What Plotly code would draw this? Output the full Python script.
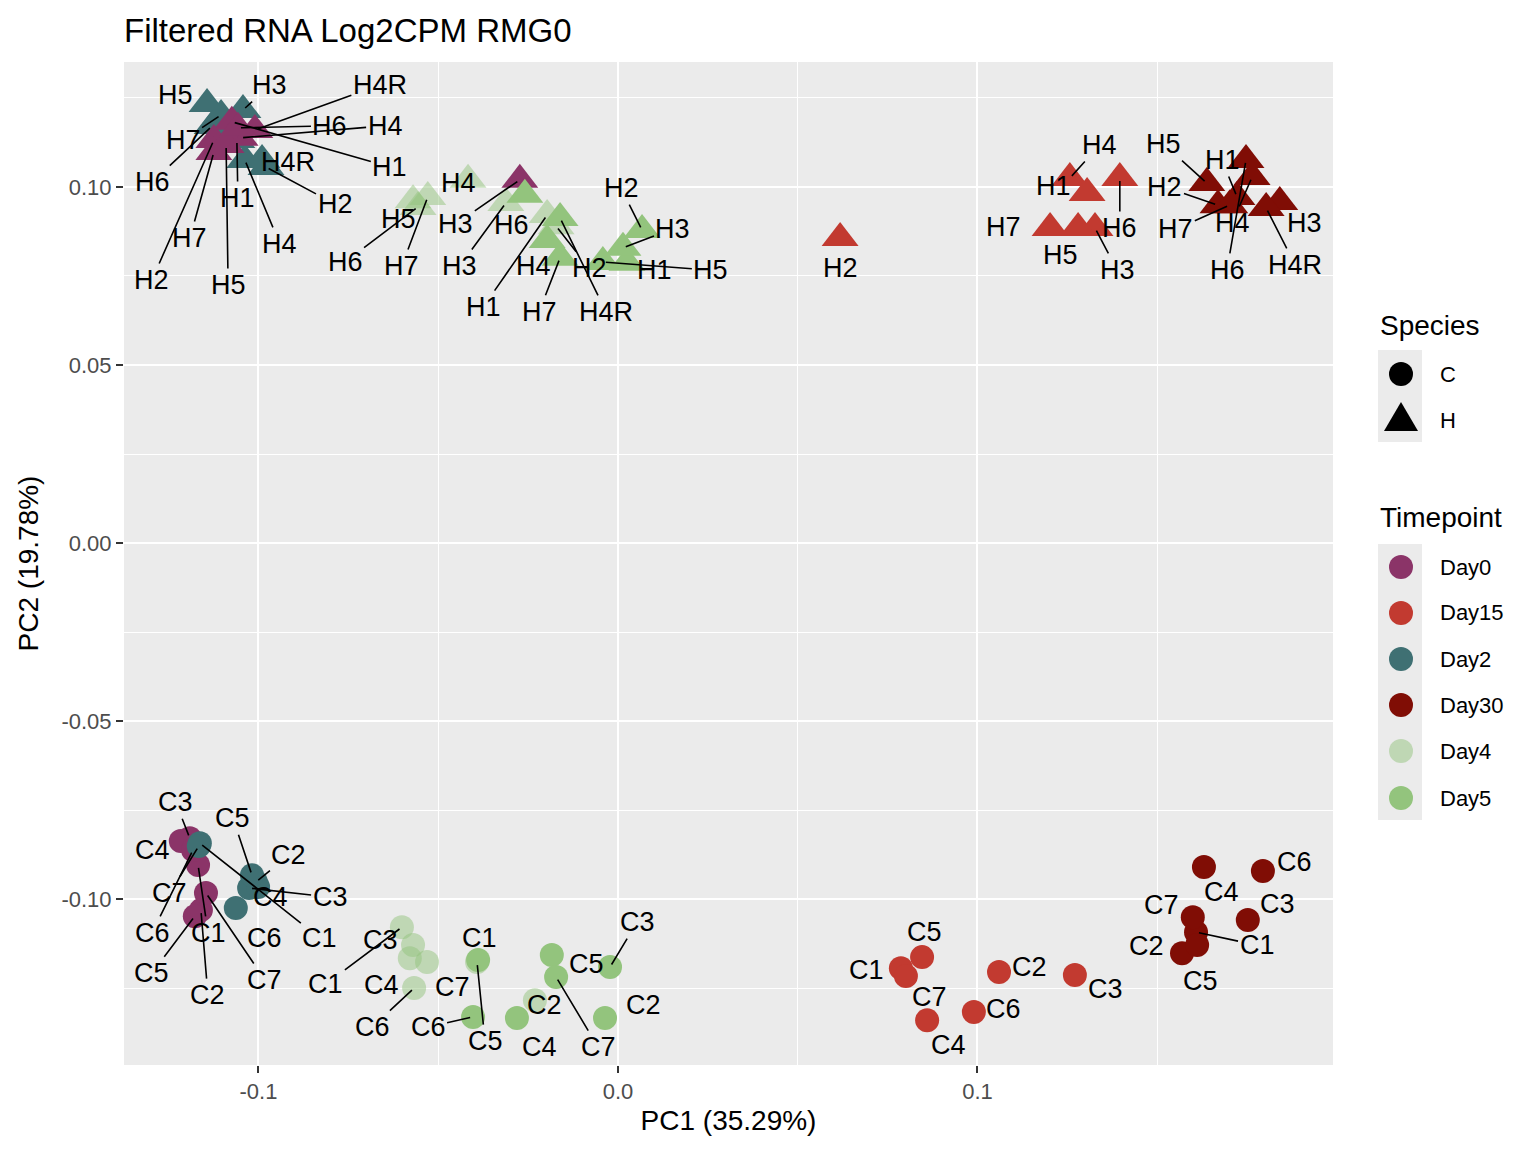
import plotly.graph_objects as go

# PCA scores
H_ALL = ["H1", "H2", "H3", "H4", "H4R", "H5", "H6", "H7"]
H_NO4R = ["H1", "H2", "H3", "H4", "H5", "H6", "H7"]
C_ALL = ["C1", "C2", "C3", "C4", "C5", "C6", "C7"]

day0_h_pc1 = [-0.1074, -0.1124, -0.0273, -0.1051, -0.1010, -0.1090, -0.1057, -0.1124]
day0_h_pc2 = [0.1183, 0.1132, 0.1020, 0.1138, 0.1160, 0.1118, 0.1166, 0.1098]
day2_h_pc1 = [-0.1060, -0.0979, -0.1043, -0.1038, -0.0990, -0.1143, -0.1129, -0.1104]
day2_h_pc2 = [0.1132, 0.1056, 0.1216, 0.1076, 0.1076, 0.1233, 0.1171, 0.1202]
day4_h_pc1 = [-0.0197, -0.0172, -0.0312, -0.0417, -0.0570, -0.0556, -0.0529]
day4_h_pc2 = [0.0921, 0.0890, 0.0955, 0.1020, 0.0963, 0.0944, 0.0972]
day5_h_pc1 = [0.0025, 0.0067, 0.0014, -0.0197, -0.0161, -0.0042, -0.0259, -0.0161]
day5_h_pc2 = [0.0787, 0.0879, 0.0829, 0.0851, 0.0913, 0.0789, 0.0978, 0.0801]
day15_h_pc1 = [0.1305, 0.0618, 0.1327, 0.1257, 0.1280, 0.1396, 0.1202]
day15_h_pc2 = [0.0983, 0.0857, 0.0885, 0.1025, 0.0885, 0.1025, 0.0885]
day30_h_pc1 = [0.1722, 0.1669, 0.1841, 0.1764, 0.1803, 0.1638, 0.1747, 0.1702]
day30_h_pc2 = [0.0972, 0.0949, 0.0958, 0.1028, 0.0941, 0.1011, 0.1076, 0.0949]

day0_c_pc1 = [-0.1168, -0.1160, -0.1191, -0.1216, -0.1177, -0.1182, -0.1146]
day0_c_pc2 = [-0.0904, -0.1031, -0.0829, -0.0837, -0.1048, -0.0862, -0.0983]
day2_c_pc1 = [-0.1163, -0.1007, -0.1026, -0.1001, -0.1018, -0.1063, -0.1166]
day2_c_pc2 = [-0.0843, -0.0952, -0.0969, -0.0966, -0.0933, -0.1025, -0.0851]
day4_c_pc1 = [-0.0601, -0.0231, -0.0570, -0.0579, -0.0392, -0.0567, -0.0531]
day4_c_pc2 = [-0.1079, -0.1284, -0.1129, -0.1166, -0.1177, -0.1250, -0.1177]
day5_c_pc1 = [-0.0389, -0.0036, -0.0022, -0.0281, -0.0184, -0.0403, -0.0172]
day5_c_pc2 = [-0.1171, -0.1334, -0.1191, -0.1334, -0.1157, -0.1331, -0.1219]
day15_c_pc1 = [0.0787, 0.1060, 0.1271, 0.0860, 0.0846, 0.0990, 0.0801]
day15_c_pc2 = [-0.1194, -0.1205, -0.1213, -0.1340, -0.1163, -0.1317, -0.1216]
day30_c_pc1 = [0.1608, 0.1569, 0.1752, 0.1630, 0.1611, 0.1794, 0.1599]
day30_c_pc2 = [-0.1093, -0.1152, -0.1059, -0.0910, -0.1129, -0.0921, -0.1051]

TIMEPOINTS = ["Day0", "Day15", "Day2", "Day30", "Day4", "Day5"]
SPECIES = ["C", "H"]

# drawing order (Day0 triangles sit over the Day2 ones)
GROUPS = [
    ("Day2", "H", H_ALL, day2_h_pc1, day2_h_pc2),
    ("Day0", "H", H_ALL, day0_h_pc1, day0_h_pc2),
    ("Day4", "H", H_NO4R, day4_h_pc1, day4_h_pc2),
    ("Day5", "H", H_ALL, day5_h_pc1, day5_h_pc2),
    ("Day15", "H", H_NO4R, day15_h_pc1, day15_h_pc2),
    ("Day30", "H", H_ALL, day30_h_pc1, day30_h_pc2),
    ("Day0", "C", C_ALL, day0_c_pc1, day0_c_pc2),
    ("Day2", "C", C_ALL, day2_c_pc1, day2_c_pc2),
    ("Day4", "C", C_ALL, day4_c_pc1, day4_c_pc2),
    ("Day5", "C", C_ALL, day5_c_pc1, day5_c_pc2),
    ("Day15", "C", C_ALL, day15_c_pc1, day15_c_pc2),
    ("Day30", "C", C_ALL, day30_c_pc1, day30_c_pc2),
]

# styling
TP_COLOURS = {"Day0": "#8B3468", "Day15": "#C23A30", "Day2": "#3F7073",
              "Day30": "#800D05", "Day4": "rgba(147,196,125,0.5)", "Day5": "#93C47D"}
SYMBOLS = {"C": "circle", "H": "triangle-up"}
SIZES = {"C": 24, "H": 32}
FONT = "Liberation Sans, Arial, sans-serif"

# repel-style label placement: pixel offset from point, and whether a segment is drawn
LABEL_NUDGE = {
    ("Day0", "H1"): (158, 45, 1), ("Day0", "H2"): (-62, 140, 1), ("Day0", "H3"): (-64, 44, 1),
    ("Day0", "H4"): (145, -12, 1), ("Day0", "H4R"): (125, -45, 1), ("Day0", "H5"): (2, 140, 1),
    ("Day0", "H6"): (92, -2, 1), ("Day0", "H7"): (-24, 86, 1),
    ("Day2", "H1"): (1, 58, 1), ("Day2", "H2"): (69, 37, 1), ("Day2", "H3"): (27, -25, 1),
    ("Day2", "H4"): (35, 84, 1), ("Day2", "H4R"): (26, 2, 0), ("Day2", "H5"): (-32, -9, 0),
    ("Day2", "H6"): (-60, 56, 1), ("Day2", "H7"): (-38, 25, 1),
    ("Day4", "H1"): (-64, 92, 1), ("Day4", "H2"): (33, 42, 1), ("Day4", "H3"): (-46, 63, 1),
    ("Day4", "H4"): (-10, 3, 0), ("Day4", "H5"): (-15, 19, 0), ("Day4", "H6"): (-73, 55, 1),
    ("Day4", "H7"): (-26, 69, 1),
    ("Day5", "H1"): (28, 7, 0), ("Day5", "H2"): (-21, -42, 1), ("Day5", "H3"): (50, -19, 1),
    ("Day5", "H4"): (-14, 26, 0), ("Day5", "H4R"): (46, 94, 1), ("Day5", "H5"): (108, 8, 1),
    ("Day5", "H6"): (-13, 30, 0), ("Day5", "H7"): (-21, 54, 1),
    ("Day15", "H1"): (-34, -7, 0), ("Day15", "H2"): (0, 30, 0), ("Day15", "H3"): (22, 42, 1),
    ("Day15", "H4"): (30, -33, 1), ("Day15", "H5"): (-18, 27, 0), ("Day15", "H6"): (0, 50, 1),
    ("Day15", "H7"): (-47, -1, 0),
    ("Day30", "H1"): (-15, -37, 1), ("Day30", "H2"): (-53, -18, 1), ("Day30", "H3"): (25, 21, 0),
    ("Day30", "H4"): (-20, 46, 1), ("Day30", "H4R"): (29, 57, 1), ("Day30", "H5"): (-43, -39, 1),
    ("Day30", "H6"): (-19, 110, 1), ("Day30", "H7"): (-54, 24, 1),
    ("Day0", "C1"): (10, 68, 1), ("Day0", "C2"): (7, 85, 1), ("Day0", "C3"): (-14, -36, 1),
    ("Day0", "C4"): (-28, 9, 0), ("Day0", "C5"): (-43, 57, 1), ("Day0", "C6"): (-41, 83, 1),
    ("Day0", "C7"): (59, 87, 1),
    ("Day2", "C1"): (120, 95, 1), ("Day2", "C2"): (33, -27, 1), ("Day2", "C3"): (81, 9, 1),
    ("Day2", "C4"): (12, 10, 0), ("Day2", "C5"): (-19, -57, 1), ("Day2", "C6"): (29, 30, 0),
    ("Day2", "C7"): (-29, 47, 1),
    ("Day4", "C1"): (-76, 57, 1), ("Day4", "C2"): (10, 5, 0), ("Day4", "C3"): (-33, -5, 0),
    ("Day4", "C4"): (-28, 27, 0), ("Day4", "C5"): (8, 79, 1), ("Day4", "C6"): (-42, 39, 1),
    ("Day4", "C7"): (25, 25, 0),
    ("Day5", "C1"): (1, -22, 0), ("Day5", "C2"): (38, -13, 0), ("Day5", "C3"): (27, -45, 1),
    ("Day5", "C4"): (23, 29, 0), ("Day5", "C5"): (35, 9, 0), ("Day5", "C6"): (-45, 10, 1),
    ("Day5", "C7"): (42, 70, 1),
    ("Day15", "C1"): (-34, 2, 0), ("Day15", "C2"): (30, -5, 0), ("Day15", "C3"): (31, 14, 0),
    ("Day15", "C4"): (21, 25, 0), ("Day15", "C5"): (2, -25, 0), ("Day15", "C6"): (30, -3, 0),
    ("Day15", "C7"): (24, 21, 0),
    ("Day30", "C1"): (61, 13, 1), ("Day30", "C2"): (-36, -7, 0), ("Day30", "C3"): (30, -16, 0),
    ("Day30", "C4"): (18, 25, 0), ("Day30", "C5"): (3, 36, 0), ("Day30", "C6"): (32, -9, 0),
    ("Day30", "C7"): (-31, -12, 0),
}

# panel box in page pixels; the html body adds an 8px margin so the figure is shifted back
L, R, T, B = 124, 1333, 62, 1065
W, H = 1536, 1152
PAGE_PAD = 8


def px(x):
    return (x - L) / (R - L)


def py(y):
    return (B - y) / (B - T)


fig = go.Figure()
annotations = []
for tp, sp, names, xs, ys in GROUPS:
    fig.add_trace(go.Scatter(
        x=xs, y=ys, mode="markers", name=f"{sp} {tp}", text=names, showlegend=False,
        marker=dict(symbol=SYMBOLS[sp], size=SIZES[sp], color=TP_COLOURS[tp], line_width=0),
        hovertemplate="%{text}<br>PC1=%{x}<br>PC2=%{y}<extra>" + tp + "</extra>"))
    for n, x, y in zip(names, xs, ys):
        dx, dy, seg = LABEL_NUDGE[(tp, n)]
        if seg:
            annotations.append(dict(x=x, y=y, text=n, showarrow=True, ax=dx, ay=dy,
                                    arrowhead=0, arrowwidth=1.6, arrowcolor="black", standoff=3,
                                    font=dict(size=27, color="black", family=FONT)))
        else:
            annotations.append(dict(x=x, y=y, text=n, showarrow=False, xshift=dx, yshift=-dy,
                                    font=dict(size=27, color="black", family=FONT)))

# legend drawn by hand (ggplot style keys with grey background)
shapes = []
lg_x, key_x, txt_x = 1378, 1401, 1438


def legend_text(x, y, s, size):
    annotations.append(dict(xref="paper", yref="paper", x=px(x), y=py(y), text=s,
                            showarrow=False, xanchor="left", yanchor="middle",
                            font=dict(size=size, color="black", family=FONT)))


def key_box(y0, y1):
    shapes.append(dict(type="rect", xref="paper", yref="paper", x0=px(1378), x1=px(1422),
                       y0=py(y1), y1=py(y0), fillcolor="#EBEBEB", line_width=0, layer="below"))


def key_circle(y, colour):
    shapes.append(dict(type="circle", xref="paper", yref="paper", xsizemode="pixel",
                       ysizemode="pixel", xanchor=px(key_x), yanchor=py(y), x0=-12, x1=12,
                       y0=-12, y1=12, fillcolor=colour, line_width=0))


legend_text(lg_x, 325, "Species", 28)
key_box(350, 442)
key_circle(374, "black")
shapes.append(dict(type="path", xref="paper", yref="paper", xsizemode="pixel", ysizemode="pixel",
                   xanchor=px(key_x), yanchor=py(419), path="M -17,-12 L 17,-12 L 0,17 Z",
                   fillcolor="black", line_width=0))
for s, y in zip(SPECIES, [374, 420]):
    legend_text(txt_x, y, s, 22)

legend_text(lg_x, 517, "Timepoint", 28)
key_box(544, 820)
for tp, y in zip(TIMEPOINTS, [567, 613, 659, 705, 751, 798]):
    key_circle(y, TP_COLOURS[tp])
    legend_text(txt_x, y, tp, 22)

axis_common = dict(showgrid=True, gridcolor="white", gridwidth=2.2, zeroline=False,
                   ticks="outside", ticklen=7, tickwidth=1.8, tickcolor="#333333",
                   tickfont=dict(size=22, color="#4D4D4D", family=FONT),
                   automargin=False, showline=False)

fig.update_layout(
    width=W, height=H,
    margin=dict(l=L - PAGE_PAD, r=W - R + PAGE_PAD, t=T - PAGE_PAD, b=H - B + PAGE_PAD),
    paper_bgcolor="white", plot_bgcolor="#EBEBEB",
    font=dict(family=FONT, color="black"),
    title=dict(text="Filtered RNA Log2CPM RMG0", x=(L - PAGE_PAD) / W, xanchor="left",
               xref="container", y=1 - (30 - PAGE_PAD) / H, yanchor="middle",
               font=dict(size=33, color="black", family=FONT)),
    xaxis=dict(axis_common, range=[-0.1374, 0.1989], tickvals=[-0.1, 0.0, 0.1],
               ticktext=["-0.1", "0.0", "0.1"],
               minor=dict(tickvals=[-0.05, 0.05, 0.15], showgrid=True, gridcolor="white",
                          gridwidth=1.1, ticks=""),
               title=dict(text="PC1 (35.29%)", font=dict(size=28, color="black", family=FONT),
                          standoff=6)),
    yaxis=dict(axis_common, range=[-0.1466, 0.1351],
               tickvals=[-0.10, -0.05, 0.0, 0.05, 0.10],
               ticktext=["-0.10", "-0.05", "0.00", "0.05", "0.10"],
               minor=dict(tickvals=[-0.125, -0.075, -0.025, 0.025, 0.075, 0.125], showgrid=True,
                          gridcolor="white", gridwidth=1.1, ticks=""),
               title=dict(text="PC2 (19.78%)", font=dict(size=28, color="black", family=FONT),
                          standoff=14)),
    annotations=annotations,
    shapes=shapes,
    showlegend=False,
)

fig.write_html("out.html")
